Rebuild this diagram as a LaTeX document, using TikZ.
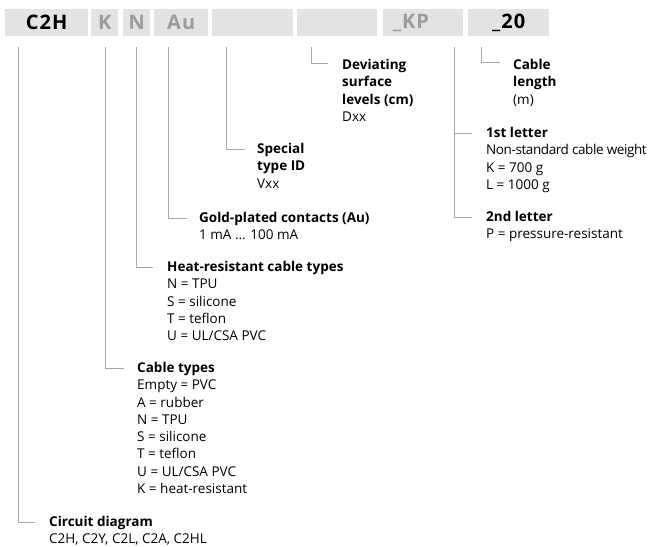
\documentclass[tikz,border=0pt]{standalone}
\usepackage{fontspec}
\setmainfont{Open Sans}
\definecolor{boxgray}{HTML}{E3E3E3}
\definecolor{txtgray}{HTML}{9C9C9C}
\definecolor{linegray}{HTML}{A8A8A8}
\begin{document}
\begin{tikzpicture}[x=1pt,y=-1pt,
  hdrfont/.style={font=\fontsize{20}{24}\selectfont\bfseries\addfontfeatures{LetterSpace=5}},
  hdr/.style={hdrfont, fill=boxgray, minimum height=27pt, inner sep=0pt, anchor=north west},
  lbl/.style={anchor=north west, align=left, inner sep=0pt,
    font=\fontsize{13.5}{17.3}\selectfont},
  conn/.style={draw=linegray, line width=0.8pt}]
\useasboundingbox (0,0) rectangle (652,546);
% header boxes
\node[hdr, minimum width=83pt] (bC) at (5,9) {C2H};
\node[hdr, minimum width=27pt, text=txtgray] (bK) at (91,9) {K};
\node[hdr, minimum width=27pt, text=txtgray] (bN) at (123,9) {N};
\node[hdr, minimum width=54pt, text=txtgray] (bA) at (154,9) {Au};
\node[hdr, minimum width=81pt] (bV) at (212,9) {};
\node[hdr, minimum width=80pt] (bD) at (297,9) {};
\node[hdr, minimum width=80pt] (bP) at (383,9) {};
\node[hdrfont, text=txtgray, inner sep=0pt] (tP) at (411,22.5) {\_KP};
\node[hdr, minimum width=81pt] (bL) at (468,9) {\_20};
% labels
\node[lbl] (lC) at (49,516) {\textbf{Circuit diagram}\\C2H, C2Y, C2L, C2A, C2HL};
\node[lbl] (lK) at (137,362) {\textbf{Cable types}\\Empty = PVC\\A = rubber\\N = TPU\\S = silicone\\T = teflon\\U = UL/CSA PVC\\K = heat-resistant};
\node[lbl] (lN) at (167,261) {\textbf{Heat-resistant cable types}\\N = TPU\\S = silicone\\T = teflon\\U = UL/CSA PVC};
\node[lbl] (lA) at (199,212) {\textbf{Gold-plated contacts (Au)}\\1 mA ... 100 mA};
\node[lbl] (lV) at (257,143) {\textbf{Special}\\\textbf{type ID}\\Vxx};
\node[lbl] (lD) at (342,59) {\textbf{Deviating}\\\textbf{surface}\\\textbf{levels (cm)}\\Dxx};
\node[lbl] (lL) at (513,59) {\textbf{Cable}\\\textbf{length}\\(m)};
\node[lbl] (lP1) at (486,127) {\textbf{1st letter}\\{\addfontfeatures{LetterSpace=-3}Non-standard cable weight}\\K = 700 g\\L = 1000 g};
\node[lbl] (lP2) at (486,211) {\textbf{2nd letter}\\P = pressure-resistant};
% connector start points
\coordinate (sC) at (18,47);
\coordinate (sK) at (105,47);
\coordinate (sN) at (136,47);
\coordinate (sA) at (168,47);
\coordinate (sV) at (226,47);
\coordinate (sD) at (311,47);
\coordinate (sP) at (454,47);
\coordinate (sL) at (481,47);
% connectors
\draw[conn] (sC) |- ([xshift=-14pt,yshift=-6pt]lC.north west);
\draw[conn] (sK) |- ([xshift=-13pt,yshift=-6pt]lK.north west);
\draw[conn] (sN) |- ([xshift=-14pt,yshift=-6pt]lN.north west);
\draw[conn] (sA) |- ([xshift=-12pt,yshift=-6pt]lA.north west);
\draw[conn] (sV) |- ([xshift=-12pt,yshift=-6pt]lV.north west);
\draw[conn] (sD) |- ([xshift=-14pt,yshift=-4pt]lD.north west);
\draw[conn] (sL) |- ([xshift=-13pt,yshift=-3pt]lL.north west);
\draw[conn] (sP) |- ([xshift=-14pt,yshift=-6pt]lP2.north west);
\draw[conn] ([xshift=-32pt,yshift=-6pt]lP1.north west) -- ([xshift=-14pt,yshift=-6pt]lP1.north west);
\end{tikzpicture}
\end{document}
